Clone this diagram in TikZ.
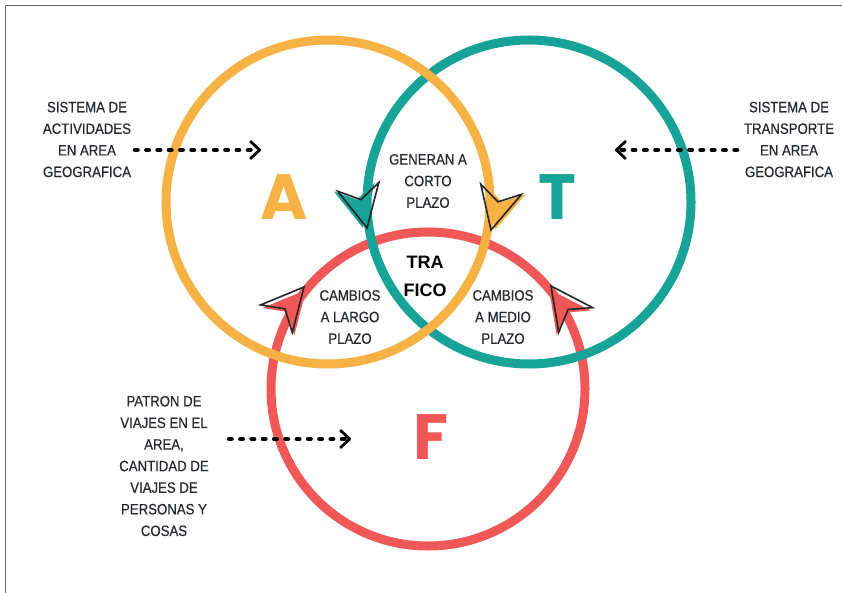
\documentclass[tikz,border=0pt]{standalone}
\usepackage{fontspec}
\setmainfont{Liberation Sans}
\newfontfamily\labelfont[FakeStretch=0.88,FakeBold=0.5]{Liberation Sans}
\newfontfamily\letterfont{Poppins}
\usetikzlibrary{arrows.meta}

\definecolor{ringorange}{RGB}{246,178,68}
\definecolor{ringteal}{RGB}{23,163,152}
\definecolor{ringred}{RGB}{240,88,88}
\definecolor{labelgray}{RGB}{38,42,46}
\definecolor{framegray}{RGB}{105,105,105}

% navigation-style arrowhead: tip x, tip y, angle, colour, fill dx, fill dy
\newcommand\navhead[6]{%
  \begin{scope}[shift={(#1+#5,#2+#6)},rotate=#3]
    \fill[#4] (0,0) -- (-42,21) -- (-29,0) -- (-42,-21) -- cycle;
  \end{scope}
  \begin{scope}[shift={(#1,#2)},rotate=#3]
    \draw[navline] (0,0) -- (-42,21) -- (-29,0) -- (-42,-21) -- cycle;
  \end{scope}}

\tikzset{
  ring/.style={circle, draw, line width=9pt, inner sep=0pt, minimum size=#1},
  bigletter/.style={inner sep=0pt, font=\letterfont\bfseries\fontsize{64}{64}\selectfont},
  label/.style={inner sep=0pt, align=center, text=labelgray,
    font=\labelfont\fontsize{15}{21.6}\selectfont},
  centrelabel/.style={inner sep=0pt, align=center, text=black,
    font=\bfseries\fontsize{18}{28}\selectfont},
  navline/.style={draw=black!85, line width=1.6pt, line join=miter},
  dotarrow/.style={line width=4.5pt, dash pattern=on 2.5pt off 8.8pt, line cap=round,
    -{Straight Barb[length=9pt,width=17pt,line width=2.8pt,round]}},
  frameline/.style={draw=framegray, line width=1.6pt}
}

\begin{document}
\begin{tikzpicture}[x=1pt,y=-1pt]
\useasboundingbox (0,0) rectangle (842,593);
\fill[white] (0,0) rectangle (842,593);
\draw[frameline] (5.5,593) -- (5.5,5.5) -- (842,5.5);

% the three rings
\node[ring=314pt, draw=ringred]    (ringF) at (428,389) {};
\node[ring=324pt, draw=ringteal]   (ringT) at (529,202) {};
\node[ring=324pt, draw=ringorange] (ringA) at (328,202) {};

% arrowheads riding on the rings
\navhead{491}{230}{-104}{ringorange}{4}{0}
\navhead{367}{228}{-78}{ringteal}{-4}{0}
\navhead{304}{287}{49}{ringred}{2}{3}
\navhead{551}{286}{126}{ringred}{-2}{3}

% ring letters
\node[bigletter, text=ringorange] (letA) at (284,197) {A};
\node[bigletter, text=ringteal]   (letT) at (557,197) {T};
\node[bigletter, text=ringred]    (letF) at (431,437) {F};

% labels inside the overlaps
\node[label] (shortterm) at (428,181) {GENERAN A\\CORTO\\PLAZO};
\node[label] (longterm)  at (350,317) {CAMBIOS\\A LARGO\\PLAZO};
\node[label] (midterm)   at (503,317) {CAMBIOS\\A MEDIO\\PLAZO};
\node[centrelabel] (traffic) at (425,276) {TRA\\FICO};

% outer descriptions
\node[label] (descA) at (87,139.5) {SISTEMA DE\\ACTIVIDADES\\EN AREA\\GEOGRAFICA};
\node[label] (descT) at (789,139.5) {SISTEMA DE\\TRANSPORTE\\EN AREA\\GEOGRAFICA};
\node[label] (descF) at (164,466) {PATRON DE\\VIAJES EN EL\\AREA,\\CANTIDAD DE\\VIAJES DE\\PERSONAS Y\\COSAS};

% dotted pointers
\coordinate (pA0) at (135,150);
\coordinate (pA1) at (261,150);
\coordinate (pT0) at (737,150);
\coordinate (pT1) at (615,150);
\coordinate (pF0) at (229,439);
\coordinate (pF1) at (351,439);
\draw[dotarrow] (pA0) -- (pA1);
\draw[dotarrow] (pT0) -- (pT1);
\draw[dotarrow] (pF0) -- (pF1);
\end{tikzpicture}
\end{document}
